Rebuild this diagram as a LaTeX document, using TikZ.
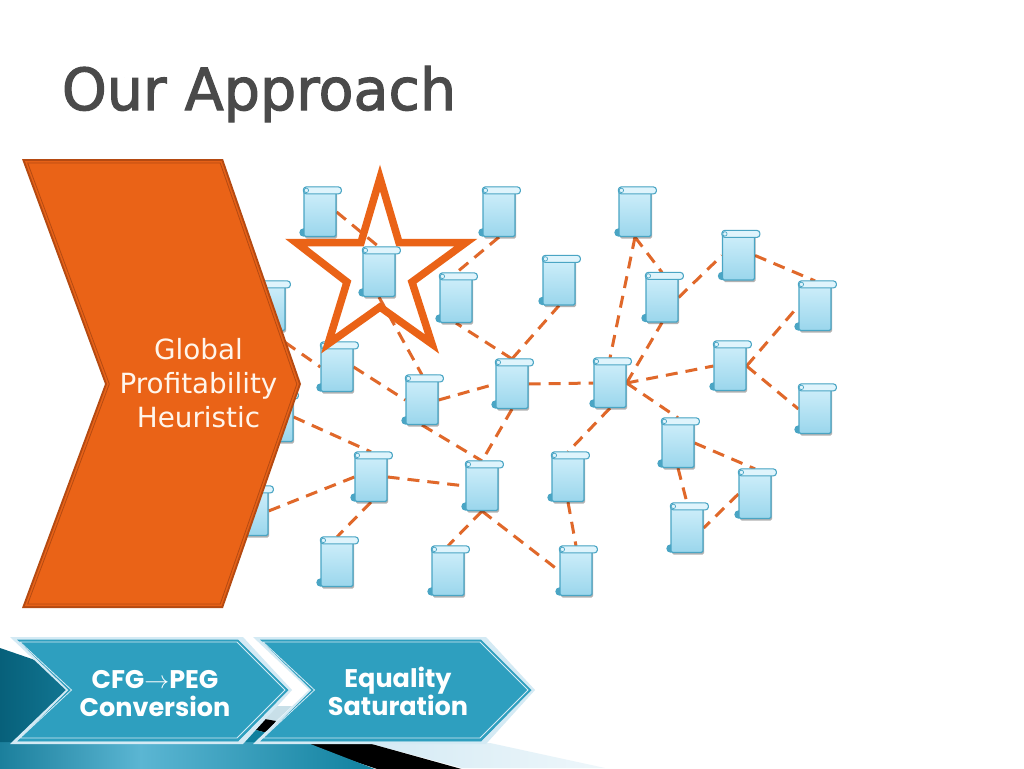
\documentclass[tikz,border=0pt]{standalone}
\usepackage{fontspec}
\usepackage{graphicx}
\setmainfont{DejaVu Sans}
\newfontfamily\chevfont{Poppins}
\newfontfamily\titlefont{DejaVu Sans}[FakeBold=2]
\usetikzlibrary{shadows,calc}
\definecolor{orangemain}{HTML}{EA6317}
\definecolor{orangedark}{HTML}{B54A12}
\definecolor{edgeor}{HTML}{E0682A}
\definecolor{scrollline}{HTML}{4AA5C4}
\definecolor{scrolltop}{HTML}{D2F0FB}
\definecolor{scrollbot}{HTML}{9AD6EC}
\definecolor{tealmain}{HTML}{2E9FBF}
\definecolor{teallight}{HTML}{D4EAF4}
\definecolor{titlegray}{HTML}{4A4A4A}
\definecolor{bandA}{HTML}{1B7F9C}
\definecolor{bandB}{HTML}{5BB6D3}
\definecolor{bandC}{HTML}{0E7F9D}
\definecolor{sideA}{HTML}{07607A}
\definecolor{sideB}{HTML}{1A87A5}
\definecolor{wedgegrey}{HTML}{C8DFE8}
\pgfdeclarelayer{edges}
\pgfsetlayers{edges,main}
\tikzset{
  scrollbody/.style={rectangle,draw=scrollline,line width=1.2pt,rounded corners=1.5pt,
    minimum width=32pt,minimum height=49pt,inner sep=0pt,top color=scrolltop,bottom color=scrollbot,
    drop shadow={shadow xshift=1pt,shadow yshift=-2pt,opacity=.3,fill=black}},
  scrollbar/.style={draw=scrollline,line width=1.1pt,fill=scrolltop!70!white,rounded corners=3pt},
  scrollcurl/.style={fill=scrollline,draw=none},
  link/.style={draw=edgeor,line width=3pt,dash pattern=on 12pt off 8pt},
  starline/.style={draw=orangemain,line width=7.5pt,miter limit=20,line join=miter},
  chevtext/.style={text=white,align=center,font=\chevfont\bfseries\fontsize{25.5}{28}\selectfont},
}
\newcommand{\scrollat}[3]{%
  \fill[scrollcurl] ($(#2,#3)+(-16.5,20.5)$) circle (4.2);
  \node[scrollbody] (#1) at (#2,#3) {};
  \draw[scrollbar] (#1.north west) rectangle ++(38,7);
  \draw[scrollline,line width=.7pt] ($(#1.north west)+(3,3.5)$) circle (2.2);
}
\begin{document}
\begin{tikzpicture}[x=1pt,y=-1pt]
\useasboundingbox (0,0) rectangle (1024,768);
\begin{pgfonlayer}{edges}
\fill[white] (0,0) rectangle (1024,768);
\end{pgfonlayer}
% decoration at the foot of the slide
\path[left color=teallight,right color=teallight!40!white] (368,743) -- (490,743) -- (605,768) -- (462,768) -- cycle;
\fill[black] (300,743) -- (368,743) -- (465,770) -- (380,770) -- cycle;
\path[left color=bandA,right color=bandB] (0,740) -- (141,740) -- (141,771) -- (0,771) -- cycle;
\path[left color=bandB,right color=bandC] (140,740) -- (300,740) -- (380,771) -- (140,771) -- cycle;
\path[left color=sideA,right color=sideB] (0,648) -- (32,659) -- (120,700) -- (120,742) -- (0,742) -- cycle;
\fill[wedgegrey] (268,706) -- (292,706) -- (276,721) -- (259,718) -- cycle;
\fill[black] (259,718) -- (276,721) -- (267,733) -- (252,729) -- cycle;
\fill[bandC] (252,729) -- (267,733) -- (258,742) -- (243,742) -- cycle;
% title
\node[text=titlegray,anchor=base] (title) at (259,110) {\scalebox{0.985}[1]{\titlefont\fontsize{58}{60}\selectfont Our Approach}};
% scrolls
\scrollat{a12}{337}{367}
% star
\draw[starline] (380,178) -- (399,242.5) -- (466,242.5) -- (412,282) -- (432,344) -- (380,307) -- (328,344) -- (347,282) -- (296,242.5) -- (361,242.5) -- cycle;
\scrollat{a1}{320}{212}
\scrollat{a2}{499}{212}
\scrollat{a3}{635}{212}
\scrollat{a4}{738.5}{255.5}
\scrollat{a5}{815}{306}
\scrollat{a6}{815}{409}
\scrollat{a7}{730}{366}
\scrollat{a8}{662}{297.5}
\scrollat{a9}{559}{280.5}
\scrollat{a10}{456}{298}
\scrollat{a11}{379}{272}
\scrollat{a13}{422}{400}
\scrollat{a14}{512}{384}
\scrollat{a15}{610}{383}
\scrollat{a16}{678}{443}
\scrollat{a17}{755}{494}
\scrollat{a18}{687}{528}
\scrollat{a19}{568}{477}
\scrollat{a20}{482}{486}
\scrollat{a21}{371}{477}
\scrollat{a22}{337}{562}
\scrollat{a23}{448}{571}
\scrollat{a24}{576}{571}
\scrollat{a25}{252}{511}
\scrollat{a26}{269}{306}
\scrollat{a27}{277}{417}
% connectors
\begin{pgfonlayer}{edges}
\draw[link] (a1.east) -- (a11.north);
\draw[link] (a11.south) -- (a13.north);
\draw[link] (a2.south) -- (a10.north);
\draw[link] (a14.north) -- (a10.south);
\draw[link] (a14.north) -- (a9.south);
\draw[link] (a3.south) -- (a15.north);
\draw[link] (a3.south) -- (a8.north);
\draw[link] (a15.east) -- (a8.south);
\draw[link] (a8.east) -- (a4.west);
\draw[link] (a4.east) -- (a5.north);
\draw[link] (a7.east) -- (a5.west);
\draw[link] (a7.east) -- (a6.west);
\draw[link] (a15.east) -- (a7.west);
\draw[link] (a14.east) -- (a15.west);
\draw[link] (a13.east) -- (a14.west);
\draw[link] (a12.east) -- (a13.west);
\draw[link] (a26.south) -- (a12.west);
\draw[link] (a15.east) -- (a16.north);
\draw[link] (a15.south) -- (a19.north);
\draw[link] (a14.south) -- (a20.north);
\draw[link] (a13.south) -- (a20.north);
\draw[link] (a27.east) -- (a21.north);
\draw[link] (a21.west) -- (a25.east);
\draw[link] (a21.east) -- (a20.west);
\draw[link] (a21.south) -- (a22.north);
\draw[link] (a20.south) -- (a23.north);
\draw[link] (a20.south) -- (a24.west);
\draw[link] (a19.south) -- (a24.north);
\draw[link] (a16.east) -- (a17.north);
\draw[link] (a16.south) -- (a18.north);
\draw[link] (a17.west) -- (a18.east);
\end{pgfonlayer}
% big chevron
\fill[orangedark] (22,159) -- (223,159) -- (301,384) -- (223,608) -- (22,608) -- (105,384) -- cycle;
\fill[orangemain!92!orangedark] (24.9,161) -- (221.6,161) -- (298.9,384) -- (221.6,606) -- (24.9,606) -- (107.1,384) -- cycle;
\filldraw[fill=orangemain,draw=orangedark,line width=.8pt] (27.7,163) -- (220.2,163) -- (296.8,384) -- (220.2,604) -- (27.7,604) -- (109.3,384) -- cycle;
\node[text=white!92!orange,align=center,font=\fontsize{27.8}{34}\selectfont] (heur) at (198.5,383) {Global\\Profitability\\Heuristic};
% lower chevrons
\fill[teallight] (10,637) -- (243,637) -- (292,690) -- (243,744) -- (10,744) -- (66,690) -- cycle;
\filldraw[fill=tealmain,draw=tealmain,line width=.7pt] (18,640) -- (238,640) -- (288,690) -- (238,741) -- (18,741) -- (69,690) -- cycle;
\draw[draw=teallight,line width=.8pt] (20,642) -- (237,642) -- (285,690) -- (237,738) -- (20,738) -- (71.5,690) -- cycle;
\fill[teallight] (253,637) -- (486,637) -- (535,690) -- (486,744) -- (253,744) -- (309,690) -- cycle;
\filldraw[fill=tealmain,draw=tealmain,line width=.7pt] (261,640) -- (481,640) -- (531,690) -- (481,741) -- (261,741) -- (312,690) -- cycle;
\draw[draw=teallight,line width=.8pt] (263,642) -- (480,642) -- (528,690) -- (480,738) -- (263,738) -- (314.5,690) -- cycle;
\node[chevtext] (cfg) at (155,694) {CFG$\rightarrow$PEG\\Conversion};
\node[chevtext] (eq) at (398,691) {Equality\\Saturation};
\end{tikzpicture}
\end{document}
